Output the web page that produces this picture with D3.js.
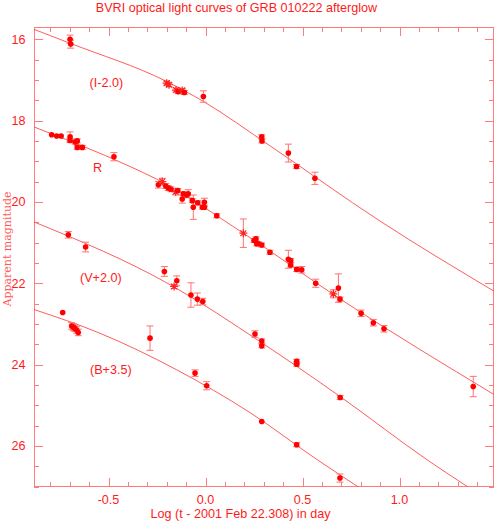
<!DOCTYPE html>
<meta charset="utf-8">
<style>
body { margin: 0; background: #fff; }
svg { display: block; font-family: 'Liberation Sans', Arial, sans-serif; }
.frame { fill: none; stroke: #ff7c7c; stroke-width: 1; }
.tick { stroke: #ff7c7c; stroke-width: 1; }
.fit { fill: none; stroke: #ff4a4a; stroke-width: 0.9; }
.err { stroke: #ff7070; stroke-width: 1; }
.ticklab { fill: #ff1a1a; font-size: 12.6px; }
.band { fill: #ff1a1a; font-size: 12.6px; }
</style>
<body>
<div id="chart"></div>
<script src="https://cdnjs.cloudflare.com/ajax/libs/d3/7.8.5/d3.min.js"></script>
<script>
// observed points: [log t, magnitude (offset applied), error, kind]  kind 's' = star
var iPts = [
  [-0.698,16.00,0.10,'o'],[-0.695,16.12,0.10,'o'],
  [-0.200,17.08,0.05,'s'],[-0.188,17.12,0.05,'s'],[-0.152,17.25,0.05,'s'],
  [-0.140,17.29,0.05,'o'],[-0.120,17.26,0.05,'s'],[-0.109,17.31,0.05,'o'],
  [-0.011,17.41,0.14,'o'],[0.290,18.40,0.05,'o'],[0.291,18.50,0.05,'o'],
  [0.427,18.80,0.22,'o'],[0.469,19.13,0.05,'o'],[0.564,19.42,0.15,'o']
];
var rPts = [
  [-0.793,18.35,0.03,'o'],[-0.767,18.38,0.03,'o'],[-0.744,18.38,0.03,'o'],
  [-0.698,18.40,0.12,'o'],[-0.698,18.49,0.05,'o'],[-0.672,18.53,0.05,'o'],
  [-0.661,18.50,0.05,'o'],[-0.661,18.66,0.05,'o'],[-0.635,18.66,0.05,'o'],
  [-0.472,18.89,0.10,'o'],[-0.243,19.58,0.08,'o'],[-0.223,19.50,0.08,'s'],
  [-0.205,19.61,0.06,'o'],[-0.192,19.66,0.06,'o'],[-0.178,19.69,0.06,'o'],
  [-0.154,19.75,0.08,'s'],[-0.143,19.72,0.05,'o'],[-0.120,19.93,0.10,'o'],
  [-0.114,19.80,0.05,'o'],[-0.097,19.83,0.05,'o'],[-0.089,19.80,0.10,'o'],
  [-0.068,19.97,0.05,'o'],[-0.063,20.13,0.30,'o'],[-0.040,20.02,0.05,'o'],
  [-0.016,20.13,0.05,'o'],[-0.006,20.01,0.10,'o'],[-0.006,20.13,0.05,'o'],
  [0.058,20.34,0.05,'o'],[0.195,20.77,0.35,'s'],[0.250,20.95,0.05,'o'],
  [0.260,20.91,0.05,'o'],[0.264,21.03,0.05,'o'],[0.272,21.03,0.05,'o'],
  [0.290,21.06,0.05,'o'],[0.332,21.24,0.05,'o'],[0.427,21.41,0.22,'o'],
  [0.439,21.44,0.05,'o'],[0.439,21.55,0.05,'o'],[0.470,21.66,0.05,'o'],
  [0.496,21.67,0.08,'o'],[0.568,22.00,0.10,'o'],[0.659,22.26,0.10,'s'],
  [0.685,22.12,0.35,'o'],[0.693,22.39,0.05,'o'],[0.802,22.74,0.08,'o'],
  [0.865,22.97,0.08,'o'],[0.920,23.12,0.08,'o'],[1.380,24.54,0.25,'o']
];
var vPts = [
  [-0.707,20.81,0.08,'o'],[-0.618,21.11,0.12,'o'],[-0.212,21.71,0.12,'o'],
  [-0.148,21.94,0.12,'o'],[-0.162,22.08,0.05,'s'],[-0.075,22.29,0.30,'o'],
  [-0.042,22.39,0.15,'o'],[-0.014,22.45,0.08,'o'],[0.255,23.25,0.08,'o'],
  [0.290,23.42,0.05,'o'],[0.290,23.54,0.05,'o'],[0.470,23.92,0.05,'o'],
  [0.470,23.99,0.05,'o'],[0.694,24.81,0.05,'o']
];
var bPts = [
  [-0.736,22.72,0.03,'o'],[-0.690,23.05,0.08,'o'],[-0.681,23.08,0.08,'o'],
  [-0.673,23.11,0.08,'o'],[-0.664,23.15,0.08,'o'],[-0.656,23.21,0.08,'o'],
  [-0.286,23.35,0.30,'o'],[-0.054,24.21,0.08,'o'],[0.006,24.52,0.10,'o'],
  [0.290,25.40,0.03,'o'],[0.470,25.97,0.05,'o'],[0.693,26.79,0.10,'o']
];

// fitted curves: [log t, magnitude]
var iFit = [[-0.888,15.75],[-0.698,16.10],[-0.200,17.04],[-0.011,17.53],[0.332,18.62],[0.899,20.47],[1.492,22.21]];
var rFit = [[-0.888,18.15],[-0.389,19.13],[-0.252,19.44],[0.195,20.77],[0.695,22.39],[1.492,24.75]];
var vFit = [[-0.888,20.485],[-0.166,22.08],[0.281,23.435],[0.695,24.79],[1.148,26.36],[1.353,27.01]];
var bFit = [[-0.888,22.64],[-0.544,23.23],[-0.148,24.13],[0.229,25.18],[0.573,26.33],[0.788,27.01]];

var xMajor = [-0.5, 0.0, 0.5, 1.0];
var yMajor = [16, 18, 20, 22, 24, 26];
var bandLabels = ['(I-2.0)', 'R', '(V+2.0)', '(B+3.5)'];

var W = 496, H = 523;
var pL = 34, pR = 494, pT = 27, pB = 487;

var svg = d3.select('#chart').append('svg')
  .attr('width', W).attr('height', H);

var x = d3.scaleLinear().domain([-0.884, 1.487]).range([pL, pR]);
var y = d3.scaleLinear().domain([15.70, 27.01]).range([pT, pB]);

svg.append('defs').append('clipPath').attr('id', 'clip')
  .append('rect').attr('x', pL).attr('y', pT)
  .attr('width', pR - pL).attr('height', pB - pT);

// frame
svg.append('rect').attr('class', 'frame')
  .attr('x', pL + 0.5).attr('y', pT + 0.5)
  .attr('width', pR - pL - 1).attr('height', pB - pT - 1);

// ticks on all four sides
var xMinor = d3.range(-8, 15).map(function(d){ return d / 10; });
xMinor.forEach(function(v){
  var major = xMajor.some(function(m){ return Math.abs(m - v) < 1e-6; });
  var px = Math.round(x(v)) + 0.5, len = major ? 9 : 5;
  svg.append('line').attr('class', 'tick').attr('x1', px).attr('x2', px)
    .attr('y1', pB).attr('y2', pB - len);
  svg.append('line').attr('class', 'tick').attr('x1', px).attr('x2', px)
    .attr('y1', pT).attr('y2', pT + len);
});
var yMinor = d3.range(16, 27.01, 0.5);
yMinor.forEach(function(v){
  var major = yMajor.indexOf(v) >= 0;
  var py = Math.round(y(v)) + 0.5, len = major ? 9 : 5;
  svg.append('line').attr('class', 'tick').attr('x1', pL).attr('x2', pL + len)
    .attr('y1', py).attr('y2', py);
  svg.append('line').attr('class', 'tick').attr('x1', pR).attr('x2', pR - len)
    .attr('y1', py).attr('y2', py);
});

svg.selectAll('.xlab').data(xMajor).enter().append('text')
  .attr('class', 'ticklab').attr('text-anchor', 'middle')
  .attr('x', function(d){ return x(d); }).attr('y', 503.5)
  .text(function(d){ return d.toFixed(1); });

svg.selectAll('.ylab').data(yMajor).enter().append('text')
  .attr('class', 'ticklab').attr('text-anchor', 'end')
  .attr('x', 25.5).attr('y', function(d){ return y(d) + 4.5; })
  .text(function(d){ return d; });

svg.append('text').attr('x', 236.5).attr('y', 12).attr('text-anchor', 'middle')
  .style('font-size', '12.6px').style('fill', '#ff1a1a')
  .text('BVRI optical light curves of GRB 010222 afterglow');

svg.append('text').attr('x', 240.5).attr('y', 517.5).attr('text-anchor', 'middle')
  .style('font-size', '12.6px').style('fill', '#ff1a1a')
  .text('Log (t - 2001 Feb 22.308) in day');

svg.append('text')
  .attr('transform', 'translate(11,249) rotate(-90)')
  .attr('text-anchor', 'middle')
  .style('font-family', "'DejaVu Serif', serif").style('font-size', '11px')
  .style('fill', '#ff5a5a')
  .text('Apparent magnitude');

// fitted curves
var line = d3.line()
  .x(function(d){ return x(d[0]); })
  .y(function(d){ return y(d[1]); })
  .curve(d3.curveMonotoneX);

var plot = svg.append('g').attr('clip-path', 'url(#clip)');
[iFit, rFit, vFit, bFit].forEach(function(f){
  plot.append('path').attr('class', 'fit').datum(f).attr('d', line);
});

// band labels
var labelPos = [[89.5, 86.5], [93, 171.5], [80, 282], [90, 374]];
bandLabels.forEach(function(t, i){
  svg.append('text').attr('class', 'band')
    .attr('x', labelPos[i][0]).attr('y', labelPos[i][1]).text(t);
});

// data points with error bars
var star = 'M-4,0L4,0M0,-4L0,4M-2.9,-2.9L2.9,2.9M-2.9,2.9L2.9,-2.9';
[iPts, rPts, vPts, bPts].forEach(function(pts){
  var g = plot.append('g');
  pts.forEach(function(d){
    var px = x(d[0]), y1 = y(d[1] - d[2]), y2 = y(d[1] + d[2]);
    if (y2 - y1 > 3) {
      g.append('line').attr('class', 'err').attr('x1', px).attr('x2', px).attr('y1', y1).attr('y2', y2);
      g.append('line').attr('class', 'err').attr('x1', px - 3.5).attr('x2', px + 3.5).attr('y1', y1).attr('y2', y1);
      g.append('line').attr('class', 'err').attr('x1', px - 3.5).attr('x2', px + 3.5).attr('y1', y2).attr('y2', y2);
    }
  });
  pts.forEach(function(d){
    if (d[3] === 's') {
      g.append('path').attr('d', star)
        .attr('transform', 'translate(' + x(d[0]) + ',' + y(d[1]) + ')')
        .attr('stroke', '#ff2020').attr('stroke-width', 1.2).attr('fill', 'none');
    } else {
      g.append('circle').attr('cx', x(d[0])).attr('cy', y(d[1])).attr('r', 2.8)
        .attr('fill', '#ff0000');
    }
  });
});
</script>
</body>
